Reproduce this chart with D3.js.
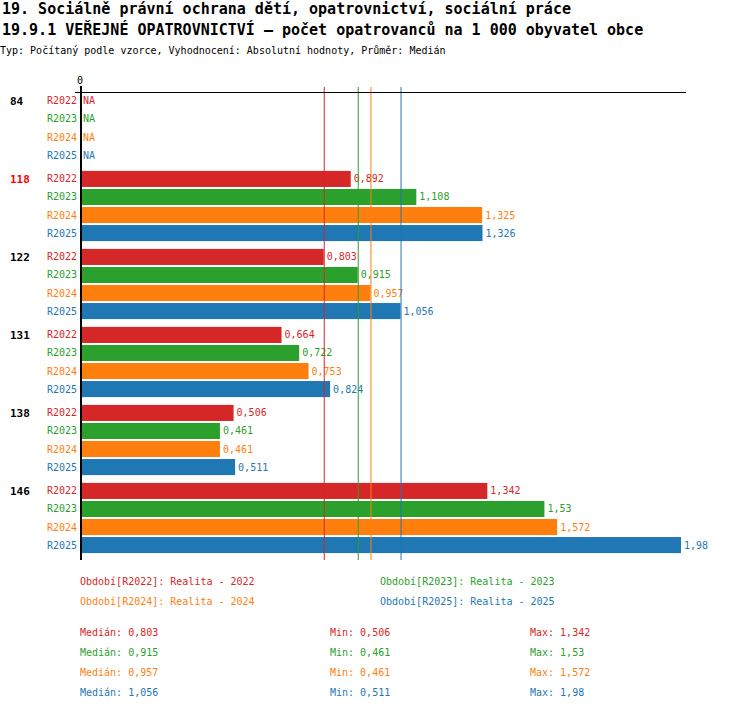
<!DOCTYPE html>
<html lang='cs'>
<head>
  <meta charset='utf-8'>
  <title>Veřejné opatrovnictví</title>
  <script src='https://cdn.jsdelivr.net/npm/d3@7/dist/d3.min.js'></script>
  <style>
    body { margin: 0; background: #fff; }
    text { font-family: "DejaVu Sans Mono", "Liberation Mono", monospace; }
  </style>
</head>
<body>
  <script>
    // data
    const categories = ["84", "118", "122", "131", "138", "146"];
    const highlighted = "118";
    const periods = ["R2022", "R2023", "R2024", "R2025"];
    const periodNames = ["Realita - 2022", "Realita - 2023", "Realita - 2024", "Realita - 2025"];
    const values = {
      "R2022": [null, 0.892, 0.803, 0.664, 0.506, 1.342],
      "R2023": [null, 1.108, 0.915, 0.722, 0.461, 1.53],
      "R2024": [null, 1.325, 0.957, 0.753, 0.461, 1.572],
      "R2025": [null, 1.326, 1.056, 0.824, 0.511, 1.98]
    };
    const medians = [0.803, 0.915, 0.957, 1.056];
    const mins = [0.506, 0.461, 0.461, 0.511];
    const maxs = [1.342, 1.53, 1.572, 1.98];

    const fmt = v => String(v).replace(".", ",");

    let width = 750, height = 710;
    let svg = d3.select("body").append("svg")
      .attr("width", width)
      .attr("height", height);

    let colorScale = d3.scaleOrdinal()
      .domain(periods)
      .range(["#d62728", "#2ca02c", "#ff7f0e", "#1f77b4"]);

    // titles
    svg.append("text").text("19. Sociálně právní ochrana dětí, opatrovnictví, sociální práce")
      .attr("x", 2).attr("y", 14).attr("font-size", 15).attr("font-weight", "bold");
    svg.append("text").text("19.9.1 VEŘEJNÉ OPATROVNICTVÍ – počet opatrovanců na 1 000 obyvatel obce")
      .attr("x", 2).attr("y", 35).attr("font-size", 15).attr("font-weight", "bold");
    svg.append("text").text("Typ: Počítaný podle vzorce, Vyhodnocení: Absolutní hodnoty, Průměr: Medián")
      .attr("x", 0).attr("y", 54).attr("font-size", 10);

    // scales
    let xScale = d3.scaleLinear().domain([0, 1.98]).range([80, 681]);
    let yGroup = d3.scaleBand().domain(categories).range([92, 560]).paddingInner(0).paddingOuter(0);
    let yBar = d3.scaleBand().domain(periods).range([0, 72]).paddingInner(0.11).paddingOuter(0.05);

    let rows = [];
    categories.forEach((c, i) => {
      periods.forEach(p => rows.push({ cat: c, period: p, value: values[p][i] }));
    });

    // bars
    let bars = svg.append("g");
    bars.selectAll("rect").data(rows.filter(d => d.value !== null)).join("rect")
      .attr("x", xScale(0))
      .attr("y", d => yGroup(d.cat) + yBar(d.period))
      .attr("width", d => xScale(d.value) - xScale(0))
      .attr("height", yBar.bandwidth())
      .attr("fill", d => colorScale(d.period));

    // value labels
    bars.selectAll(".val").data(rows).join("text")
      .classed("val", true)
      .attr("x", d => d.value === null ? xScale(0) + 3 : xScale(d.value) + 3)
      .attr("y", d => yGroup(d.cat) + yBar(d.period) + yBar.bandwidth() / 2)
      .attr("dy", "0.35em")
      .attr("font-size", 10)
      .attr("fill", d => colorScale(d.period))
      .text(d => d.value === null ? "NA" : fmt(d.value));

    // period labels
    bars.selectAll(".per").data(rows).join("text")
      .classed("per", true)
      .attr("x", 77)
      .attr("y", d => yGroup(d.cat) + yBar(d.period) + yBar.bandwidth() / 2)
      .attr("dy", "0.35em")
      .attr("text-anchor", "end")
      .attr("font-size", 10)
      .attr("fill", d => colorScale(d.period))
      .text(d => d.period);

    // category labels
    svg.append("g").selectAll("text").data(categories).join("text")
      .attr("x", 10)
      .attr("y", d => yGroup(d) + yBar(periods[0]) + yBar.bandwidth() / 2)
      .attr("dy", "0.35em")
      .attr("font-size", 11)
      .attr("font-weight", "bold")
      .attr("fill", d => d === highlighted ? "#ff0000" : "#000")
      .text(d => d);

    // median lines
    svg.append("g").selectAll("line").data(periods).join("line")
      .attr("x1", (d, i) => xScale(medians[i]) + 0.5)
      .attr("x2", (d, i) => xScale(medians[i]) + 0.5)
      .attr("y1", 87)
      .attr("y2", 560)
      .attr("stroke", d => colorScale(d))
      .attr("stroke-width", 1);

    // axes
    svg.append("line")
      .attr("x1", 75).attr("x2", 686).attr("y1", 92.5).attr("y2", 92.5)
      .attr("stroke", "#000").attr("stroke-width", 1);
    svg.append("line")
      .attr("x1", xScale(0) + 1).attr("x2", xScale(0) + 1).attr("y1", 86).attr("y2", 560)
      .attr("stroke", "#000").attr("stroke-width", 2);
    svg.append("text").text("0")
      .attr("x", xScale(0)).attr("y", 84)
      .attr("text-anchor", "middle").attr("font-size", 10);

    // legend
    svg.append("g").selectAll("text").data(periods).join("text")
      .attr("x", (d, i) => i % 2 === 0 ? 80 : 380)
      .attr("y", (d, i) => 585 + Math.floor(i / 2) * 20)
      .attr("font-size", 10)
      .attr("fill", d => colorScale(d))
      .text((d, i) => `Období[${d}]: ${periodNames[i]}`);

    // statistics
    let stats = svg.append("g");
    let statCols = [
      { x: 80, label: "Medián: ", vals: medians },
      { x: 330, label: "Min: ", vals: mins },
      { x: 530, label: "Max: ", vals: maxs }
    ];
    statCols.forEach(col => {
      stats.append("g").selectAll("text").data(periods).join("text")
        .attr("x", col.x)
        .attr("y", (d, i) => 636 + i * 20)
        .attr("font-size", 10)
        .attr("fill", d => colorScale(d))
        .text((d, i) => col.label + fmt(col.vals[i]));
    });
  </script>
</body>
</html>
